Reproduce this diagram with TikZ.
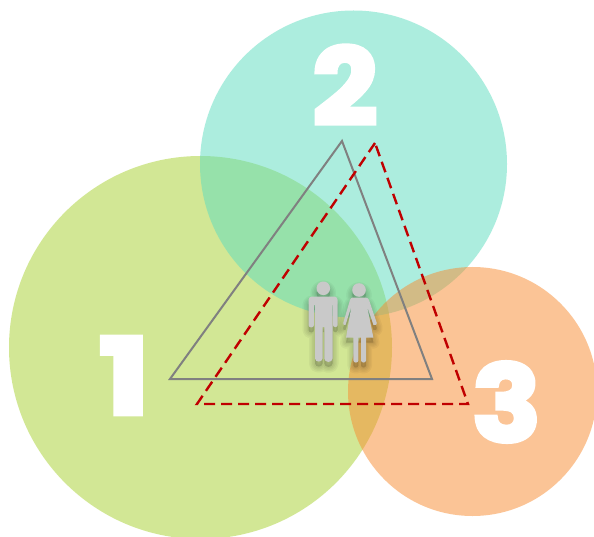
\documentclass[tikz,border=0pt]{standalone}
\usepackage{graphicx}
\usepackage{fontspec}
\newfontfamily\digitfont[FakeBold=4,FakeStretch=1.08]{Poppins Bold}
\definecolor{cOne}{HTML}{A7D12D}
\definecolor{cTwo}{HTML}{5BDDBF}
\definecolor{cThree}{HTML}{F98B2F}
\definecolor{figgray}{HTML}{C9C9C9}
\definecolor{trigray}{HTML}{808080}
\definecolor{dashred}{HTML}{C00000}
\newcommand{\manpath}{
  (323.3,288.3) circle (6.8)
  (312,296.5) -- (334,296.5) to[out=0,in=90] (337.7,300) -- (337.7,325) to[out=-90,in=-90,looseness=1.5] (333,325) -- (333,305) -- (332.6,305) -- (332.6,358.5) to[out=-90,in=-90,looseness=1.4] (324.3,358.5) -- (324.3,327) -- (322.5,327) -- (322.5,358.5) to[out=-90,in=-90,looseness=1.4] (315,358.5) -- (315,305) -- (314,305) -- (314,325) to[out=-90,in=-90,looseness=1.5] (308.5,325) -- (308.5,300) to[out=90,in=180] (312,296.5) -- cycle
}
\newcommand{\womanpath}{
  (359,290) circle (6.8)
  (353,297.5) -- (365,297.5) to[out=0,in=110] (369,300) -- (376.8,323) to[out=-70,in=-10,looseness=1.3] (373.5,325) -- (367,306) -- (373.4,337.7) -- (366,337.7) -- (366,360.5) to[out=-90,in=-90,looseness=1.4] (361,360.5) -- (361,337.7) -- (358.4,337.7) -- (358.4,360.5) to[out=-90,in=-90,looseness=1.4] (353.4,360.5) -- (353.4,337.7) -- (346,337.7) -- (351.5,306) -- (345.5,325) to[out=190,in=-110,looseness=1.3] (343.2,323) -- (350,300) to[out=70,in=180] (353,297.5) -- cycle
}
\tikzset{
  region/.style={fill opacity=0.5,draw=none},
  digit/.style={text=white,inner sep=0pt,font=\fontsize{106}{106}\selectfont\digitfont},
  solidtri/.style={draw=trigray,line width=2pt,line join=miter},
  dashtri/.style={draw=dashred,line width=2.4pt,dash pattern=on 11pt off 6pt},
  figure/.style={fill=figgray,draw=none},
}
\begin{document}
\begin{tikzpicture}[x=1pt,y=-1pt]
\useasboundingbox (0,0) rectangle (594,537);
\clip (0,0) rectangle (594,537);
\fill[white] (0,0) rectangle (594,537);
\fill[region,cOne] (200.5,347.5) circle (191.5);
\fill[region,cTwo] (353.5,164) circle (153.5);
\fill[region,cThree] (472.5,391.5) circle (124.5);
\node[digit] (one) at (124.5,375.5) {\scalebox{1.2}[1]{1}};
\node[digit] (two) at (345,85) {2};
\node[digit] (three) at (506.5,402) {3};
\coordinate (a) at (342,141);
\coordinate (b) at (170,379);
\coordinate (c) at (432,379);
\coordinate (d) at (375,143);
\coordinate (e) at (197,404);
\coordinate (f) at (468,404);
\draw[solidtri] (a) -- (b) -- (c) -- cycle;
\draw[dashtri] (d) -- (e) -- (f) -- cycle;
% soft shadows
\foreach \w in {12,9,6,3}{
  \fill[black,opacity=0.04,yshift=-5pt,draw=black,line width=\w pt,line join=round] \manpath;
  \fill[black,opacity=0.04,yshift=-5pt,draw=black,line width=\w pt,line join=round] \womanpath;
}
\fill[figure] \manpath;
\fill[figure] \womanpath;
\end{tikzpicture}
\end{document}
